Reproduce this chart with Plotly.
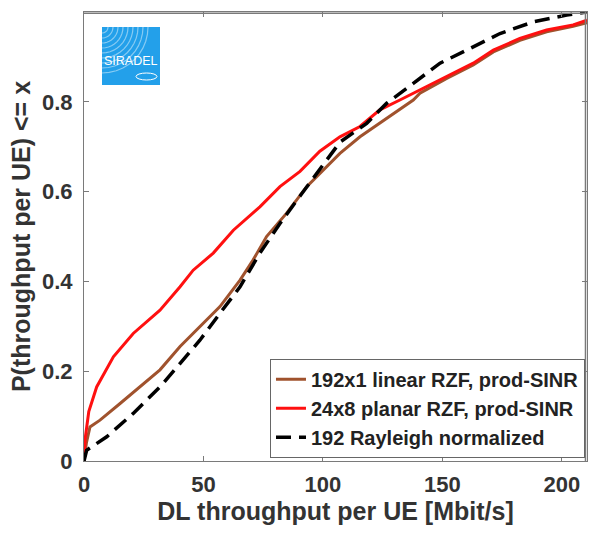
import math
import plotly.graph_objects as go

# 192x1 linear RZF, prod-SINR (brown)
lin_x = [0, 1, 2.5, 6.7, 15.1, 23.4, 31.8, 40.2, 48.5, 56.9, 65.3, 70.8, 76.4, 84.8, 93.2, 98.7,
         107.1, 115.5, 123.8, 132.2, 137.8, 140.6, 151.8, 162.9, 171.3, 182.4, 193.6, 204.7, 210.5]
lin_y = [0, 0.04, 0.076, 0.091, 0.128, 0.165, 0.203, 0.255, 0.299, 0.344, 0.403, 0.448, 0.5, 0.552,
         0.611, 0.641, 0.685, 0.722, 0.752, 0.782, 0.804, 0.819, 0.852, 0.882, 0.911, 0.937, 0.956, 0.968, 0.976]

# 24x8 planar RZF, prod-SINR (red)
pla_x = [0, 0.5, 2, 5.3, 12.3, 20.6, 31.8, 40.2, 45.7, 54.1, 62.5, 73.6, 82, 90.4, 98.7, 107.1,
         115.5, 123.8, 132.2, 140.6, 151.8, 162.9, 171.3, 182.4, 193.6, 204.7, 210.5]
pla_y = [0, 0.05, 0.11, 0.165, 0.232, 0.284, 0.336, 0.388, 0.425, 0.463, 0.514, 0.566, 0.611, 0.645,
         0.69, 0.722, 0.745, 0.782, 0.804, 0.826, 0.856, 0.886, 0.915, 0.941, 0.96, 0.971, 0.982]

# 192 Rayleigh normalized (black dashed)
ray_x = [0, 1.1, 9.5, 20.6, 31.8, 40.2, 48.5, 56.9, 65.3, 73.6, 82, 90.4, 98.7, 107.1, 118.3,
         126.7, 137.8, 149, 160.1, 174.1, 188, 202, 210.5]
ray_y = [0, 0.024, 0.054, 0.106, 0.165, 0.218, 0.269, 0.329, 0.388, 0.463, 0.529, 0.59, 0.65, 0.71,
         0.752, 0.797, 0.841, 0.886, 0.915, 0.952, 0.978, 0.993, 1.0]

x_ticks = [0, 50, 100, 150, 200]
y_ticks = [0, 0.2, 0.4, 0.6, 0.8, 1]
y_tick_text = ["0", "0.2", "0.4", "0.6", "0.8", "1"]

FONT = "Liberation Sans, Arial, sans-serif"
TXT = "#333333"
FRAME = "#7a7a7a"

fig = go.Figure()
fig.add_trace(go.Scatter(x=lin_x, y=lin_y, mode="lines", name="192x1 linear RZF, prod-SINR",
                         line=dict(color="#A0522D", width=3)))
fig.add_trace(go.Scatter(x=pla_x, y=pla_y, mode="lines", name="24x8 planar RZF, prod-SINR",
                         line=dict(color="#FF1010", width=3)))
fig.add_trace(go.Scatter(x=ray_x, y=ray_y, mode="lines", name="192 Rayleigh normalized",
                         line=dict(color="black", width=3.5, dash="15px,8px")))

axis_common = dict(showline=True, linecolor=FRAME, linewidth=1, mirror="allticks",
                   ticks="inside", ticklen=5, tickcolor=FRAME, showgrid=False, zeroline=False,
                   automargin=False,
                   tickfont=dict(family=FONT, size=22, color=TXT, weight="bold"))

fig.update_layout(
    width=594, height=536,
    margin=dict(l=84, r=7, t=12, b=75),
    paper_bgcolor="white", plot_bgcolor="white",
    xaxis=dict(range=[0, 210.5], tickvals=x_ticks,
               ticktext=[str(v) for v in x_ticks], ticklabelstandoff=4,
               title=dict(text="DL throughput per UE [Mbit/s]", standoff=4,
                          font=dict(family=FONT, size=25, color=TXT, weight="bold")),
               **axis_common),
    yaxis=dict(range=[0, 1], tickvals=y_ticks,
               ticktext=y_tick_text, ticklabelstandoff=6,
               title=dict(text="P(throughput per UE) <= x", standoff=4,
                          font=dict(family=FONT, size=25, color=TXT, weight="bold")),
               **axis_common),
    legend=dict(x=0.996, y=0.007, xanchor="right", yanchor="bottom",
                bgcolor="white", bordercolor="#666666", borderwidth=1,
                font=dict(family=FONT, size=20, color="#222222", weight="bold"),
                tracegroupgap=0, itemwidth=30),
    showlegend=True,
)

# plot frame (drawn slightly inside the plot edges so the top and right sides stay visible)
fig.add_shape(type="line", xref="paper", yref="paper", x0=0, x1=1, y0=0.997, y1=0.997,
              line=dict(color=FRAME, width=1.5), layer="above")
fig.add_shape(type="line", xref="paper", yref="paper", x0=0.997, x1=0.997, y0=0, y1=1,
              line=dict(color=FRAME, width=1.5), layer="above")

# SIRADEL logo (decoration)
lx0, lx1 = (102 - 84) / 503, (160 - 84) / 503
ly0, ly1 = (461 - 85) / 449, (461 - 27) / 449
fig.add_shape(type="rect", xref="paper", yref="paper", x0=lx0, x1=lx1, y0=ly0, y1=ly1,
              fillcolor="#23A0EA", line=dict(width=0), layer="above")
for r in [6, 11, 16, 21, 26, 31, 36, 41, 46]:
    pts = []
    for k in range(0, 11):
        a = math.pi / 2 * k / 10
        pts.append((r * math.cos(a), -r * math.sin(a)))
    path = "M " + " L ".join("%.2f,%.2f" % p for p in pts)
    fig.add_shape(type="path", xref="paper", yref="paper", xsizemode="pixel", ysizemode="pixel",
                  xanchor=lx0, yanchor=ly1, path=path,
                  line=dict(color="rgba(255,255,255,0.45)", width=1.2), layer="above")
fig.add_annotation(xref="paper", yref="paper", x=(lx0 + lx1) / 2, y=(461 - 61) / 449,
                   xanchor="center", yanchor="middle",
                   text="SIRADEL", showarrow=False,
                   font=dict(family=FONT, size=12.5, color="white"))
fig.add_shape(type="circle", xref="paper", yref="paper",
              x0=(136 - 84) / 503, x1=(157 - 84) / 503, y0=(461 - 80) / 449, y1=(461 - 73) / 449,
              line=dict(color="white", width=1), layer="above")

fig.write_html("out.html", config={"displayModeBar": False},
               post_script="document.body.style.margin='0px';")
